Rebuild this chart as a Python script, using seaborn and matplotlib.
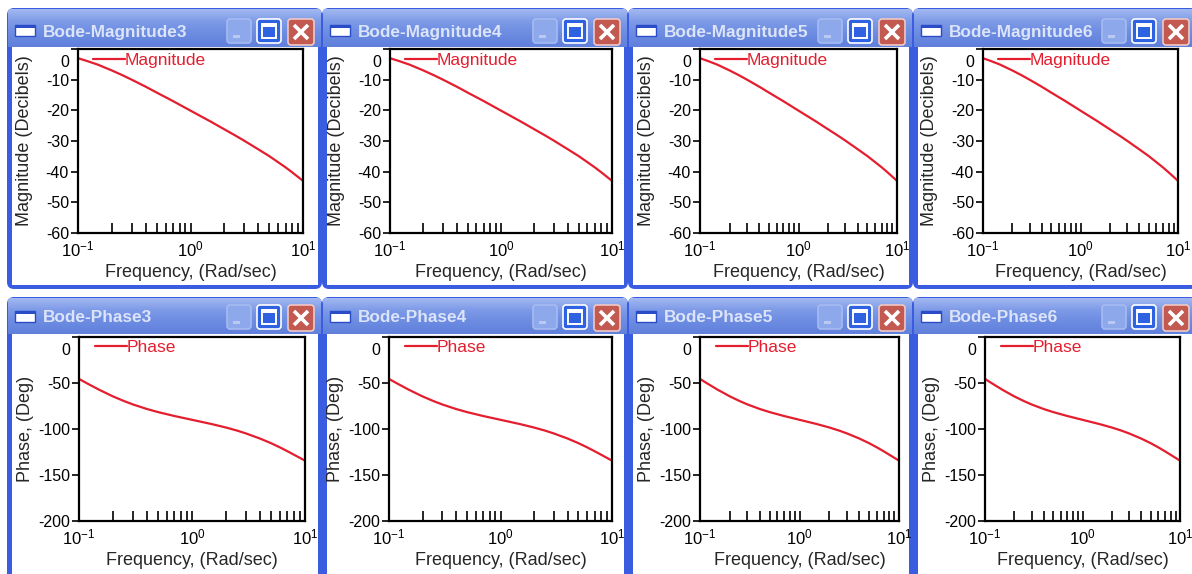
import numpy as np
import matplotlib
matplotlib.use("Agg")
import matplotlib.pyplot as plt
import seaborn as sns
from matplotlib.patches import Rectangle, FancyBboxPatch
from matplotlib.transforms import ScaledTranslation

# ---- data -------------------------------------------------------------
freq = [0.1, 0.12, 0.15, 0.2, 0.25, 0.3, 0.4, 0.5, 0.7, 1.0, 1.5, 2.0, 2.5,
        3.0, 4.0, 5.0, 6.0, 7.0, 8.0, 10.0]
magnitude_db = [-3.0, -3.9, -5.1, -7.0, -8.6, -10.0, -12.3, -14.2, -17.0,
                -20.1, -23.6, -26.2, -28.2, -29.9, -32.7, -34.9, -36.9,
                -38.6, -40.2, -43.0]
phase_deg = [-45.6, -50.9, -57.2, -64.6, -69.6, -73.3, -78.3, -81.6, -85.9,
             -90.0, -94.7, -98.4, -101.7, -104.8, -110.4, -115.4, -120.0,
             -124.2, -128.0, -134.4]

window_numbers = [3, 4, 5, 6]
mag_yticks = [0, -10, -20, -30, -40, -50, -60]
phase_yticks = [0, -50, -100, -150, -200]
freq_ticks = [0.1, 1.0, 10.0]
freq_ticklabels = [r"$10^{-1}$", r"$10^{0}$", r"$10^{1}$"]

# ---- style ------------------------------------------------------------
W, H = 1192, 574
sns.set_style("white")
plt.rcParams["font.family"] = ["Liberation Sans", "DejaVu Sans"]
plt.rcParams["mathtext.fontset"] = "custom"
plt.rcParams["mathtext.rm"] = "Liberation Sans"
plt.rcParams["mathtext.it"] = "Liberation Sans:italic"
plt.rcParams["mathtext.bf"] = "Liberation Sans:bold"
plt.rcParams["mathtext.default"] = "regular"

RED = "#e41e2e"
BORDER = "#3a5ce0"
TITLE_TXT = "#dbe4f9"

fig = plt.figure(figsize=(W / 100, H / 100), dpi=100)
fig.patch.set_facecolor("white")

bg = fig.add_axes([0, 0, 1, 1], zorder=0)
bg.set_xlim(0, W)
bg.set_ylim(H, 0)
bg.axis("off")

grad = np.linspace(0, 1, 64)[:, None]
title_cmap = matplotlib.colors.LinearSegmentedColormap.from_list(
    "xp_title", ["#a2b8f0", "#7d9ae7", "#6c8be1", "#6080dc"])


def draw_button(x, y, kind, size=24):
    if kind == "min":
        fc, ec = "#8ea8ec", "#a7bbf1"
    elif kind == "max":
        fc, ec = "#2f62e0", "#ffffff"
    else:
        fc, ec = "#c35a52", "#f0c8c4"
    bg.add_patch(FancyBboxPatch((x, y), size, size,
                                boxstyle="round,pad=0,rounding_size=3",
                                fc=fc, ec=ec, lw=1.2, zorder=5))
    if kind == "min":
        bg.add_patch(Rectangle((x + 6, y + size - 8), 7, 3, fc="#b9c9f4",
                               ec="none", zorder=6))
    elif kind == "max":
        bg.add_patch(Rectangle((x + 5, y + 5), size - 10, size - 10, fc="none",
                               ec="white", lw=1.4, zorder=6))
        bg.add_patch(Rectangle((x + 5, y + 5), size - 10, 3, fc="white",
                               ec="none", zorder=6))
    else:
        m = 6
        bg.plot([x + m, x + size - m], [y + m, y + size - m], color="white",
                lw=2.6, zorder=6, solid_capstyle="butt")
        bg.plot([x + m, x + size - m], [y + size - m, y + m], color="white",
                lw=2.6, zorder=6, solid_capstyle="butt")


def draw_window(x0, x1, y0, y1, th, c, title):
    w = x1 - x0
    frame = FancyBboxPatch((x0, y0), w, y1 - y0,
                           boxstyle="round,pad=0,rounding_size=7",
                           fc=BORDER, ec="none", zorder=1)
    bg.add_patch(frame)
    im = bg.imshow(grad, cmap=title_cmap, aspect="auto",
                   extent=(x0 + 1, x1 - 1, y0 + th, y0 + 1), zorder=2,
                   interpolation="bilinear")
    im.set_clip_path(frame)
    bg.add_patch(Rectangle((x0 + 4.5, y0 + th), w - 9, y1 - y0 - th - 4.5,
                           fc="white", ec="none", zorder=3))
    # window icon
    bg.add_patch(Rectangle((x0 + 8, y0 + c + 14), 20, 11, fc="white",
                           ec="#2a4cc8", lw=1.0, zorder=5))
    bg.add_patch(Rectangle((x0 + 8, y0 + c + 14), 20, 3, fc="#2a4cc8",
                           ec="none", zorder=5))
    bg.text(x0 + 36, y0 + c + 21, title, color=TITLE_TXT, fontsize=12.4,
            fontweight="bold", va="center", ha="left", zorder=5)
    draw_button(x1 - 95, y0 + c + 8, "min")
    draw_button(x1 - 65, y0 + c + 8, "max")
    draw_button(x1 - 34, y0 + c + 8, "close", size=26)


def px_axes(l, r, t, b):
    return fig.add_axes([l / W, 1 - b / H, (r - l) / W, (b - t) / H], zorder=3)


def style_axes(ax, yticks, ylim, ylabel, width, height):
    ax.set_xscale("log")
    ax.set_xlim(0.1, 10)
    ax.set_ylim(*ylim)
    ax.set_facecolor("white")
    for sp in ax.spines.values():
        sp.set_visible(True)
        sp.set_color("black")
        sp.set_linewidth(1.6)
    ax.set_xticks(freq_ticks)
    ax.set_xticklabels(freq_ticklabels)
    ax.xaxis.set_minor_locator(matplotlib.ticker.LogLocator(
        base=10, subs=np.arange(2, 10), numticks=20))
    ax.xaxis.set_minor_formatter(matplotlib.ticker.NullFormatter())
    ax.tick_params(axis="x", which="both", direction="in", length=7,
                   width=1.2, bottom=True, top=False, labelsize=12, pad=5,
                   colors="black")
    ax.set_yticks(yticks)
    ax.set_yticklabels([str(v) for v in yticks])
    ax.tick_params(axis="y", which="major", direction="out", length=5,
                   width=1.2, left=True, labelsize=11.5, pad=1.5,
                   colors="black")
    for tk in ax.yaxis.get_major_ticks():
        if tk.get_loc() == 0:
            tk.label1.set_transform(tk.label1.get_transform() +
                                    ScaledTranslation(0, -0.12,
                                                      fig.dpi_scale_trans))
    ax.set_xlabel("Frequency, (Rad/sec)", fontsize=13)
    ax.set_ylabel(ylabel, fontsize=13)
    ax.xaxis.set_label_coords(0.5, -31 / height)
    ax.yaxis.set_label_coords(-45 / width, 0.5)


# ---- window frames ----------------------------------------------------
x_ranges = [(7, 322), (322, 628), (628, 913), (913, 1197)]
top_axes = [(78, 303), (390, 612), (700, 897), (983, 1178)]
bot_axes = [(79, 305), (389, 612), (700, 899), (985, 1180)]

for i, n in enumerate(window_numbers):
    x0, x1 = x_ranges[i]
    draw_window(x0, x1, 8, 289, 39, 3, f"Bode-Magnitude{n}")
    draw_window(x0, x1, 297, 590, 37, 0, f"Bode-Phase{n}")

# ---- Bode plots -------------------------------------------------------
for i, n in enumerate(window_numbers):
    l, r = top_axes[i]
    ax = px_axes(l, r, 49, 233)
    sns.lineplot(x=freq, y=magnitude_db, ax=ax, color=RED, lw=1.6,
                 label="Magnitude")
    style_axes(ax, mag_yticks, (-60, 0), "Magnitude (Decibels)", r - l, 184)
    ax.legend(loc="upper left", bbox_to_anchor=(15 / (r - l), 1 - 4 / 184),
              frameon=False, handlelength=1.85, handletextpad=0,
              borderpad=0, borderaxespad=0, fontsize=12.5, labelcolor=RED)

    l, r = bot_axes[i]
    ax = px_axes(l, r, 337, 521)
    sns.lineplot(x=freq, y=phase_deg, ax=ax, color=RED, lw=1.6, label="Phase")
    style_axes(ax, phase_yticks, (-200, 0), "Phase, (Deg)", r - l, 184)
    ax.legend(loc="upper left", bbox_to_anchor=(16 / (r - l), 1 - 3 / 184),
              frameon=False, handlelength=1.85, handletextpad=0,
              borderpad=0, borderaxespad=0, fontsize=12.5, labelcolor=RED)

fig.savefig("out.png", dpi=100, facecolor=fig.get_facecolor())
